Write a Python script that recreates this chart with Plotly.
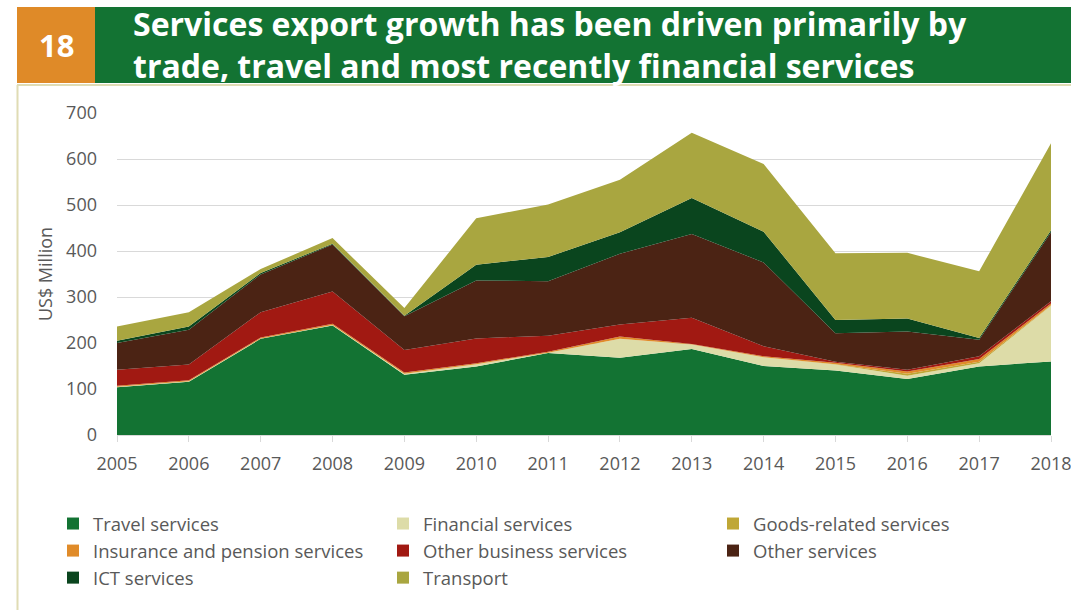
import plotly.graph_objects as go

# Services exports by category, US$ million
years = list(range(2005, 2019))

travel = [104, 116, 209, 238, 131, 149, 178, 168, 187, 150, 140, 122, 149, 160]
financial = [1, 1, 1, 1, 2, 5, 1, 41, 10, 19, 13, 7, 7, 121]
goods_related = [0, 0, 0, 0, 0, 0, 0, 0, 0, 0, 1, 4, 3, 1]
insurance = [2, 2, 2, 3, 3, 2, 2, 5, 1, 2, 3, 5, 6, 4]
other_business = [35, 34, 55, 70, 49, 54, 35, 26, 57, 22, 2, 4, 6, 5]
other_services = [58, 76, 82, 102, 73, 126, 118, 154, 182, 182, 62, 83, 36, 150]
ict = [5, 7, 3, 2, 1, 34, 53, 47, 78, 67, 29, 28, 4, 4]
transport = [31, 31, 9, 12, 17, 101, 114, 114, 142, 147, 145, 143, 145, 189]

series = [
    ("Travel services", travel, "#137333"),
    ("Financial services", financial, "#DDDCA8"),
    ("Goods-related services", goods_related, "#BFA736"),
    ("Insurance and pension services", insurance, "#E08B29"),
    ("Other business services", other_business, "#A11912"),
    ("Other services", other_services, "#4B2314"),
    ("ICT services", ict, "#0A451E"),
    ("Transport", transport, "#A9A640"),
]

# which legend column each series belongs to
legend_of = {
    "Travel services": "legend",
    "Insurance and pension services": "legend",
    "ICT services": "legend",
    "Financial services": "legend2",
    "Other business services": "legend2",
    "Transport": "legend2",
    "Goods-related services": "legend3",
    "Other services": "legend3",
}

W, H = 1071, 610
L, R, T, B = 117, 20, 113, 175
PW, PH = W - L - R, H - T - B


def px_x(px):
    return (px - L) / PW


def px_y(py):
    return (H - B - py) / PH


fig = go.Figure()

for name, vals, color in series:
    fig.add_trace(go.Scatter(
        x=years, y=vals, name=name, stackgroup="one", mode="lines",
        line=dict(width=0, color=color), fillcolor=color,
        showlegend=False, hoverinfo="x+y+name",
    ))

# legend entries with square swatches
for name, vals, color in series:
    fig.add_trace(go.Scatter(
        x=[None], y=[None], name=name, mode="markers",
        marker=dict(symbol="square", size=12, color=color),
        legend=legend_of[name], legendgroup=name, showlegend=True,
    ))

legend_font = dict(family="Open Sans", size=18.5, color="#595959")
legend_common = dict(
    font=legend_font, orientation="v", bgcolor="rgba(0,0,0,0)",
    traceorder="grouped", xanchor="left", yanchor="top", itemwidth=30,
    tracegroupgap=0,
)
legend_top = px_y(505)
fig.update_layout(
    legend=dict(x=px_x(53), y=legend_top, **legend_common),
    legend2=dict(x=px_x(383), y=legend_top, **legend_common),
    legend3=dict(x=px_x(713), y=legend_top, **legend_common),
)

# header band and frame
shapes = [
    dict(type="rect", xref="paper", yref="paper",
         x0=px_x(17), x1=px_x(95), y0=px_y(83), y1=px_y(7),
         fillcolor="#DF8A28", line=dict(width=0)),
    dict(type="rect", xref="paper", yref="paper",
         x0=px_x(95), x1=px_x(1071), y0=px_y(83), y1=px_y(7),
         fillcolor="#137333", line=dict(width=0)),
    dict(type="line", xref="paper", yref="paper",
         x0=px_x(17), x1=px_x(1071), y0=px_y(85), y1=px_y(85),
         line=dict(color="#E0DCB4", width=2)),
    dict(type="line", xref="paper", yref="paper",
         x0=px_x(17.5), x1=px_x(17.5), y0=px_y(85), y1=px_y(612),
         line=dict(color="#E0DCB4", width=2)),
]

annotations = [
    dict(text="<b>18</b>", xref="paper", yref="paper",
         x=px_x(56), y=px_y(45), xanchor="center", yanchor="middle",
         showarrow=False, font=dict(family="Open Sans", size=31, color="white")),
    dict(text="<b>Services export growth has been driven primarily by<br>"
              "trade, travel and most recently financial services</b>",
         xref="paper", yref="paper", x=px_x(131), y=px_y(44.5),
         xanchor="left", yanchor="middle", align="left", showarrow=False,
         font=dict(family="Open Sans", size=32, color="white")),
]

fig.update_layout(
    width=W, height=H,
    margin=dict(l=L, r=R, t=T, b=B, autoexpand=False),
    paper_bgcolor="white", plot_bgcolor="white",
    font=dict(family="Open Sans", color="#595959"),
    shapes=shapes, annotations=annotations,
    xaxis=dict(
        range=[2005, 2018], tickmode="array", tickvals=years,
        ticktext=[str(y) for y in years],
        showgrid=False, showline=True, linecolor="#D9D9D9", linewidth=1,
        ticks="outside", ticklen=6, tickcolor="#D9D9D9",
        ticklabelstandoff=6, ticklabeloverflow="allow",
        tickfont=dict(family="Open Sans", size=18, color="#595959"),
        zeroline=False,
    ),
    yaxis=dict(
        range=[0, 700], tickvals=[0, 100, 200, 300, 400, 500, 600, 700],
        showgrid=True, gridcolor="#D9D9D9", gridwidth=1,
        zeroline=False, showline=False,
        ticklabelstandoff=19,
        tickfont=dict(family="Open Sans", size=18, color="#595959"),
        title=dict(text="US$ Million", standoff=8,
                   font=dict(family="Open Sans", size=18, color="#595959")),
    ),
)

fig.write_html("out.html")
